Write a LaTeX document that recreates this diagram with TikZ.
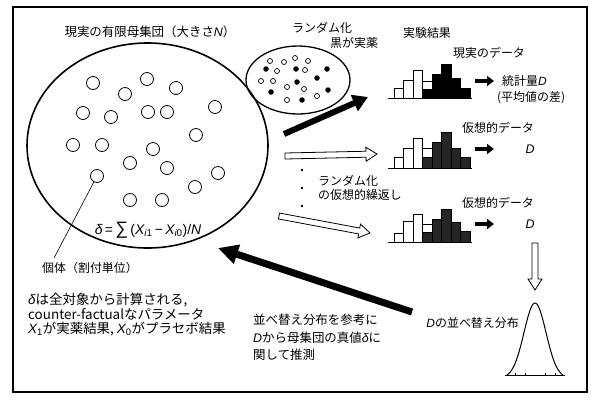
\documentclass[tikz,border=0pt]{standalone}
\usepackage{fontspec}
\setmainfont{Noto Sans CJK JP}
\newfontfamily\lsans{Liberation Sans}
\usetikzlibrary{shapes.geometric,arrows.meta,calc}
\newcommand{\iv}[1]{{\lsans\itshape #1}}
\newcommand{\histo}[4]{%
  \foreach \d/\w [count=\i] in {#4} {
    \pgfmathsetmacro{\xa}{#1+9.5*(\i-1)}
    \pgfmathsetmacro{\xb}{\xa+9.5}
    \ifdim \d pt>0pt \filldraw[fill=#3,line width=0.7bp] (\xa,#2) rectangle (\xb,#2-\d); \fi
    \ifdim \w pt>0pt \draw[fill=white,line width=0.7bp] (\xa,#2-\d) rectangle (\xb,#2-\d-\w); \fi
  }
  \draw[line width=0.9bp] (#1-6,#2) -- (#1+9.5*8+2,#2);
}
\newcommand{\hollowarrow}[2]{%
  \coordinate (hh) at ($(#2)!11bp!(#1)$);
  \draw[line width=0.8bp, fill=white, line join=miter]
    ($(#1)!3bp!90:(#2)$) -- ($(hh)!3bp!90:(#2)$) -- ($(hh)!7bp!90:(#2)$) -- (#2)
    -- ($(hh)!7bp!-90:(#2)$) -- ($(hh)!3bp!-90:(#2)$) -- ($(#1)!3bp!-90:(#2)$) -- cycle;
}
\tikzset{
  txt/.style={inner sep=0pt, anchor=west, font=\fontsize{12}{14}\selectfont},
  unit/.style={circle, draw, line width=0.8bp, minimum size=13bp, inner sep=0pt},
  odot/.style={circle, draw, line width=0.7bp, minimum size=5bp, inner sep=0pt},
  fdot/.style={circle, fill=black, minimum size=5.5bp, inner sep=0pt},
  blackarrow/.style={line width=#1, -{Triangle[length=15bp,width=17bp]}},
  smallarrow/.style={line width=3.5bp, -{Triangle[length=7bp,width=10bp]}},
}
\begin{document}
\begin{tikzpicture}[x=1bp,y=-1bp]
\useasboundingbox (0,0) rectangle (594,401);
\fill[white] (0,0) rectangle (594,401);
\draw[line width=1.2bp] (13,7) rectangle (587,392);

% population
\node[txt, anchor=center, font=\fontsize{12.5}{14}\selectfont] (title) at (150,32) {現実の有限母集団（大きさ\iv{N}）};
\node[ellipse, draw, line width=1.6bp, minimum width=241bp, minimum height=205bp, inner sep=0pt] (pop) at (147.5,145.5) {};
\foreach \p [count=\k] in {(93,83),(147,79),(125,94),(176,88),(83,113),(111,117),(148,112),(167,112),(215,107),(73,145),(102,145),(153,149),(196,135),(130,163),(167,168),(218,173),(97,176),(195,187),(130,200),(162,200)}
  \node[unit] (u\k) at \p {};
\node[inner sep=0pt, font=\fontsize{14}{16}\selectfont] (formula) at (148,230)
  {\iv{δ}{\lsans\,=\,}{\lsans\fontsize{18}{18}\selectfont ∑}{\lsans\,(}\iv{X}\textsubscript{\iv{i}\lsans 1}{\lsans\,−\,}\iv{X}\textsubscript{\iv{i}\lsans 0}{\lsans )/}\iv{N}};
\node[txt] (indiv) at (42,268) {個体（割付単位）};
\coordinate (cind) at (54,258);
\draw[line width=0.6bp] (u17) -- (cind);

\node[txt, anchor=north west, align=left, font=\fontsize{13.5}{14.6}\selectfont] (note) at (28,293)
  {\iv{δ}は全対象から計算される,\\counter-factualなパラメータ\\\iv{X}\textsubscript{\lsans 1}が実薬結果, \iv{X}\textsubscript{\lsans 0}がプラセボ結果};

% randomisation sample
\node[txt] (rand) at (292,28) {ランダム化};
\node[txt] (kuro) at (330,43) {黒が実薬};
\node[ellipse, draw, line width=1.3bp, minimum width=104bp, minimum height=68bp, inner sep=0pt] (samp) at (298,80) {};
\foreach \p in {(270,61),(284,62),(295,58),(308,61),(277,71),(305,70),(261,81),(273,81),(287,87),(304,89),(287,100),(317,96)}
  \node[odot] at \p {};
\foreach \p in {(266,69),(296,69),(327,69),(317,78),(297,82),(271,92),(328,90),(302,100)}
  \node[fdot] at \p {};

% results
\node[txt, anchor=center] (res) at (427,33) {実験結果};
\node[txt] (real) at (453,53) {現実のデータ};
\histo{394}{98}{black}{0/10,0/18,0/28,9/8,24/0,34/0,20/0,10/0}
\coordinate (h1) at (368,97);
\coordinate (m1s) at (475,81); \coordinate (m1e) at (494,81);
\draw[smallarrow] (m1s) -- (m1e);
\node[txt] (stat) at (502,81) {統計量\iv{D}};
\node[txt] (mean) at (497,98) {(平均値の差)};

\node[txt] (hyp1) at (462,128) {仮想的データ};
\histo{394}{168}{black!85}{0/11,0/20,0/30,11/9,26/0,36/0,20/0,11/0}
\coordinate (m2s) at (475,149); \coordinate (m2e) at (494,149);
\draw[smallarrow] (m2s) -- (m2e);
\node[inner sep=0pt, font=\fontsize{12.5}{14}\selectfont] (d1) at (530,149) {\iv{D}};

\fill (302,170) circle (1.4bp) (302,188) circle (1.4bp) (302,206) circle (1.4bp);
\node[txt, anchor=north west, align=left] (rep) at (318,175) {ランダム化\\の仮想的繰返し};

\node[txt] (hyp2) at (462,203) {仮想的データ};
\histo{394}{242}{black!85}{0/9,0/21,0/28,10/8,23/0,33/0,20/0,11/0}
\coordinate (m3s) at (475,224); \coordinate (m3e) at (494,224);
\draw[smallarrow] (m3s) -- (m3e);
\node[inner sep=0pt, font=\fontsize{12.5}{14}\selectfont] (d2) at (530,224) {\iv{D}};

% arrows from population
\coordinate (a1s) at (284,134);
\draw[blackarrow=6bp] (a1s) -- (h1);
\coordinate (b1s) at (285,156); \coordinate (b1e) at (377,154);
\hollowarrow{b1s}{b1e}
\coordinate (b2s) at (279,216); \coordinate (b2e) at (370,233);
\hollowarrow{b2s}{b2e}

% permutation distribution
\coordinate (b3s) at (535,243); \coordinate (b3e) at (535,290);
\hollowarrow{b3s}{b3e}
\draw[line width=1bp] plot[domain=-28:28, samples=80, smooth] ({535+\x},{375-72*(exp(-(\x*\x)/242)-0.039)/0.961});
\draw[line width=0.7bp] (505,375) -- (565,375);
\foreach \t in {515,525,545,555} \draw[line width=0.4bp] (\t,375) -- (\t,373);
\node[txt, anchor=east] (perm) at (519,323) {\iv{D}の並べ替え分布};

% inference
\coordinate (c1s) at (412,312); \coordinate (c1e) at (218,248);
\draw[line width=7bp, -{Triangle[length=20bp,width=19bp]}] (c1s) -- (c1e);
\node[txt, anchor=north west, align=left, font=\fontsize{12.5}{17.5}\selectfont] (infer) at (253,314)
  {並べ替え分布を参考に\\\iv{D}から母集団の真値\iv{δ}に\\関して推測};
\end{tikzpicture}
\end{document}
